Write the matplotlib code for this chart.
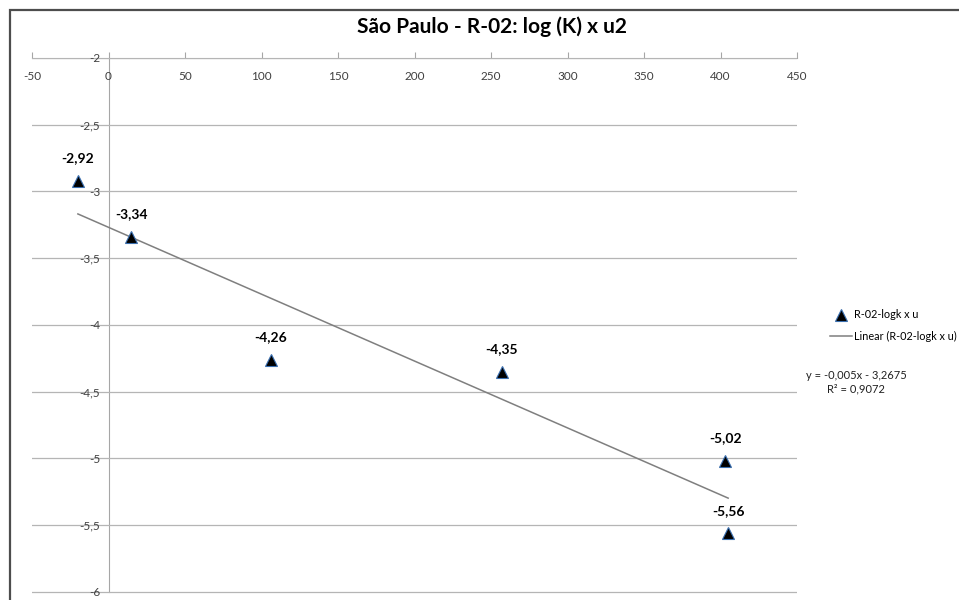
import numpy as np
import matplotlib.pyplot as plt
from matplotlib.patches import Rectangle
from matplotlib.ticker import FuncFormatter, MultipleLocator

plt.rcParams['font.family'] = ['Lato', 'DejaVu Sans']

# data
u2 = [-20, 15, 106, 257, 403, 405]
logk = [-2.92, -3.34, -4.26, -4.35, -5.02, -5.56]
point_labels = ['-2,92', '-3,34', '-4,26', '-4,35', '-5,02', '-5,56']
title = 'São Paulo - R-02: log (K) x u2'
series_name = 'R-02-logk x u'
trend_name = 'Linear (R-02-logk x u)'
equation = 'y = -0,005x - 3,2675\nR² = 0,9072'

fig = plt.figure(figsize=(9.59, 6.0), dpi=100)
ax = fig.add_axes([32/959, 1 - 595/600, (797 - 32)/959, (595 - 58)/600])

ax.set_xlim(-50, 450)
ax.set_ylim(-6.0225, -2)

# linear trend line over the data range
slope, inter = np.polyfit(u2, logk, 1)
xs = np.array([min(u2), max(u2)])
ax.plot(xs, slope*xs + inter, color='#7f7f7f', lw=1.1, label=trend_name, zorder=2)

ax.plot(u2, logk, linestyle='none', marker='^', markersize=8.5,
        markerfacecolor='black', markeredgecolor='#3a6fb0', markeredgewidth=0.8,
        label=series_name, zorder=3)

for x, y, t in zip(u2, logk, point_labels):
    ax.annotate(t, (x, y), xytext=(0, 12), textcoords='offset points',
                ha='center', va='bottom', fontsize=10, fontweight='bold', color='black')

# excel-style axes: x axis crossing at y=-2, y axis at x=0
for s in ['top', 'right']:
    ax.spines[s].set_visible(False)
ax.spines['bottom'].set_position(('data', -2))
ax.spines['left'].set_position(('data', 0))
ax.spines['left'].set_bounds(-6, -2)
for s in ['bottom', 'left']:
    ax.spines[s].set_color('#a6a6a6')
    ax.spines[s].set_zorder(0.2)

ax.xaxis.set_major_locator(MultipleLocator(50))
ax.yaxis.set_major_locator(MultipleLocator(0.5))
comma = FuncFormatter(lambda v, p: ('%g' % v).replace('.', ','))
ax.xaxis.set_major_formatter(comma)
ax.yaxis.set_major_formatter(comma)
ax.tick_params(axis='x', direction='in', length=4, color='#a6a6a6',
               labelsize=8.5, labelcolor='#404040', pad=9)
ax.tick_params(axis='y', length=0, labelsize=8.5, labelcolor='#404040', pad=6)

ax.grid(axis='y', color='#b5b5b5', lw=0.9)
ax.set_axisbelow(True)

fig.text(492/959, 1 - 27/600, title, ha='center', va='center',
         fontsize=15, fontweight='bold', color='black')

h, l = ax.get_legend_handles_labels()
fig.legend(h[::-1], l[::-1], loc='upper left', bbox_to_anchor=(826/959, 1 - 305/600),
           frameon=False, fontsize=7.8, handlelength=2.0, handletextpad=0.2,
           labelspacing=1.0, borderaxespad=0)

fig.text(856/959, 1 - 382/600, equation, ha='center', va='center',
         fontsize=8, color='#202020', linespacing=1.3)

fig.add_artist(Rectangle((10/959, -0.05), 1.0, 1 - 10/600 + 0.05,
                         transform=fig.transFigure, fill=False,
                         ec='#4d4d4d', lw=1.6, clip_on=False))

fig.savefig('out.png', dpi=100)
